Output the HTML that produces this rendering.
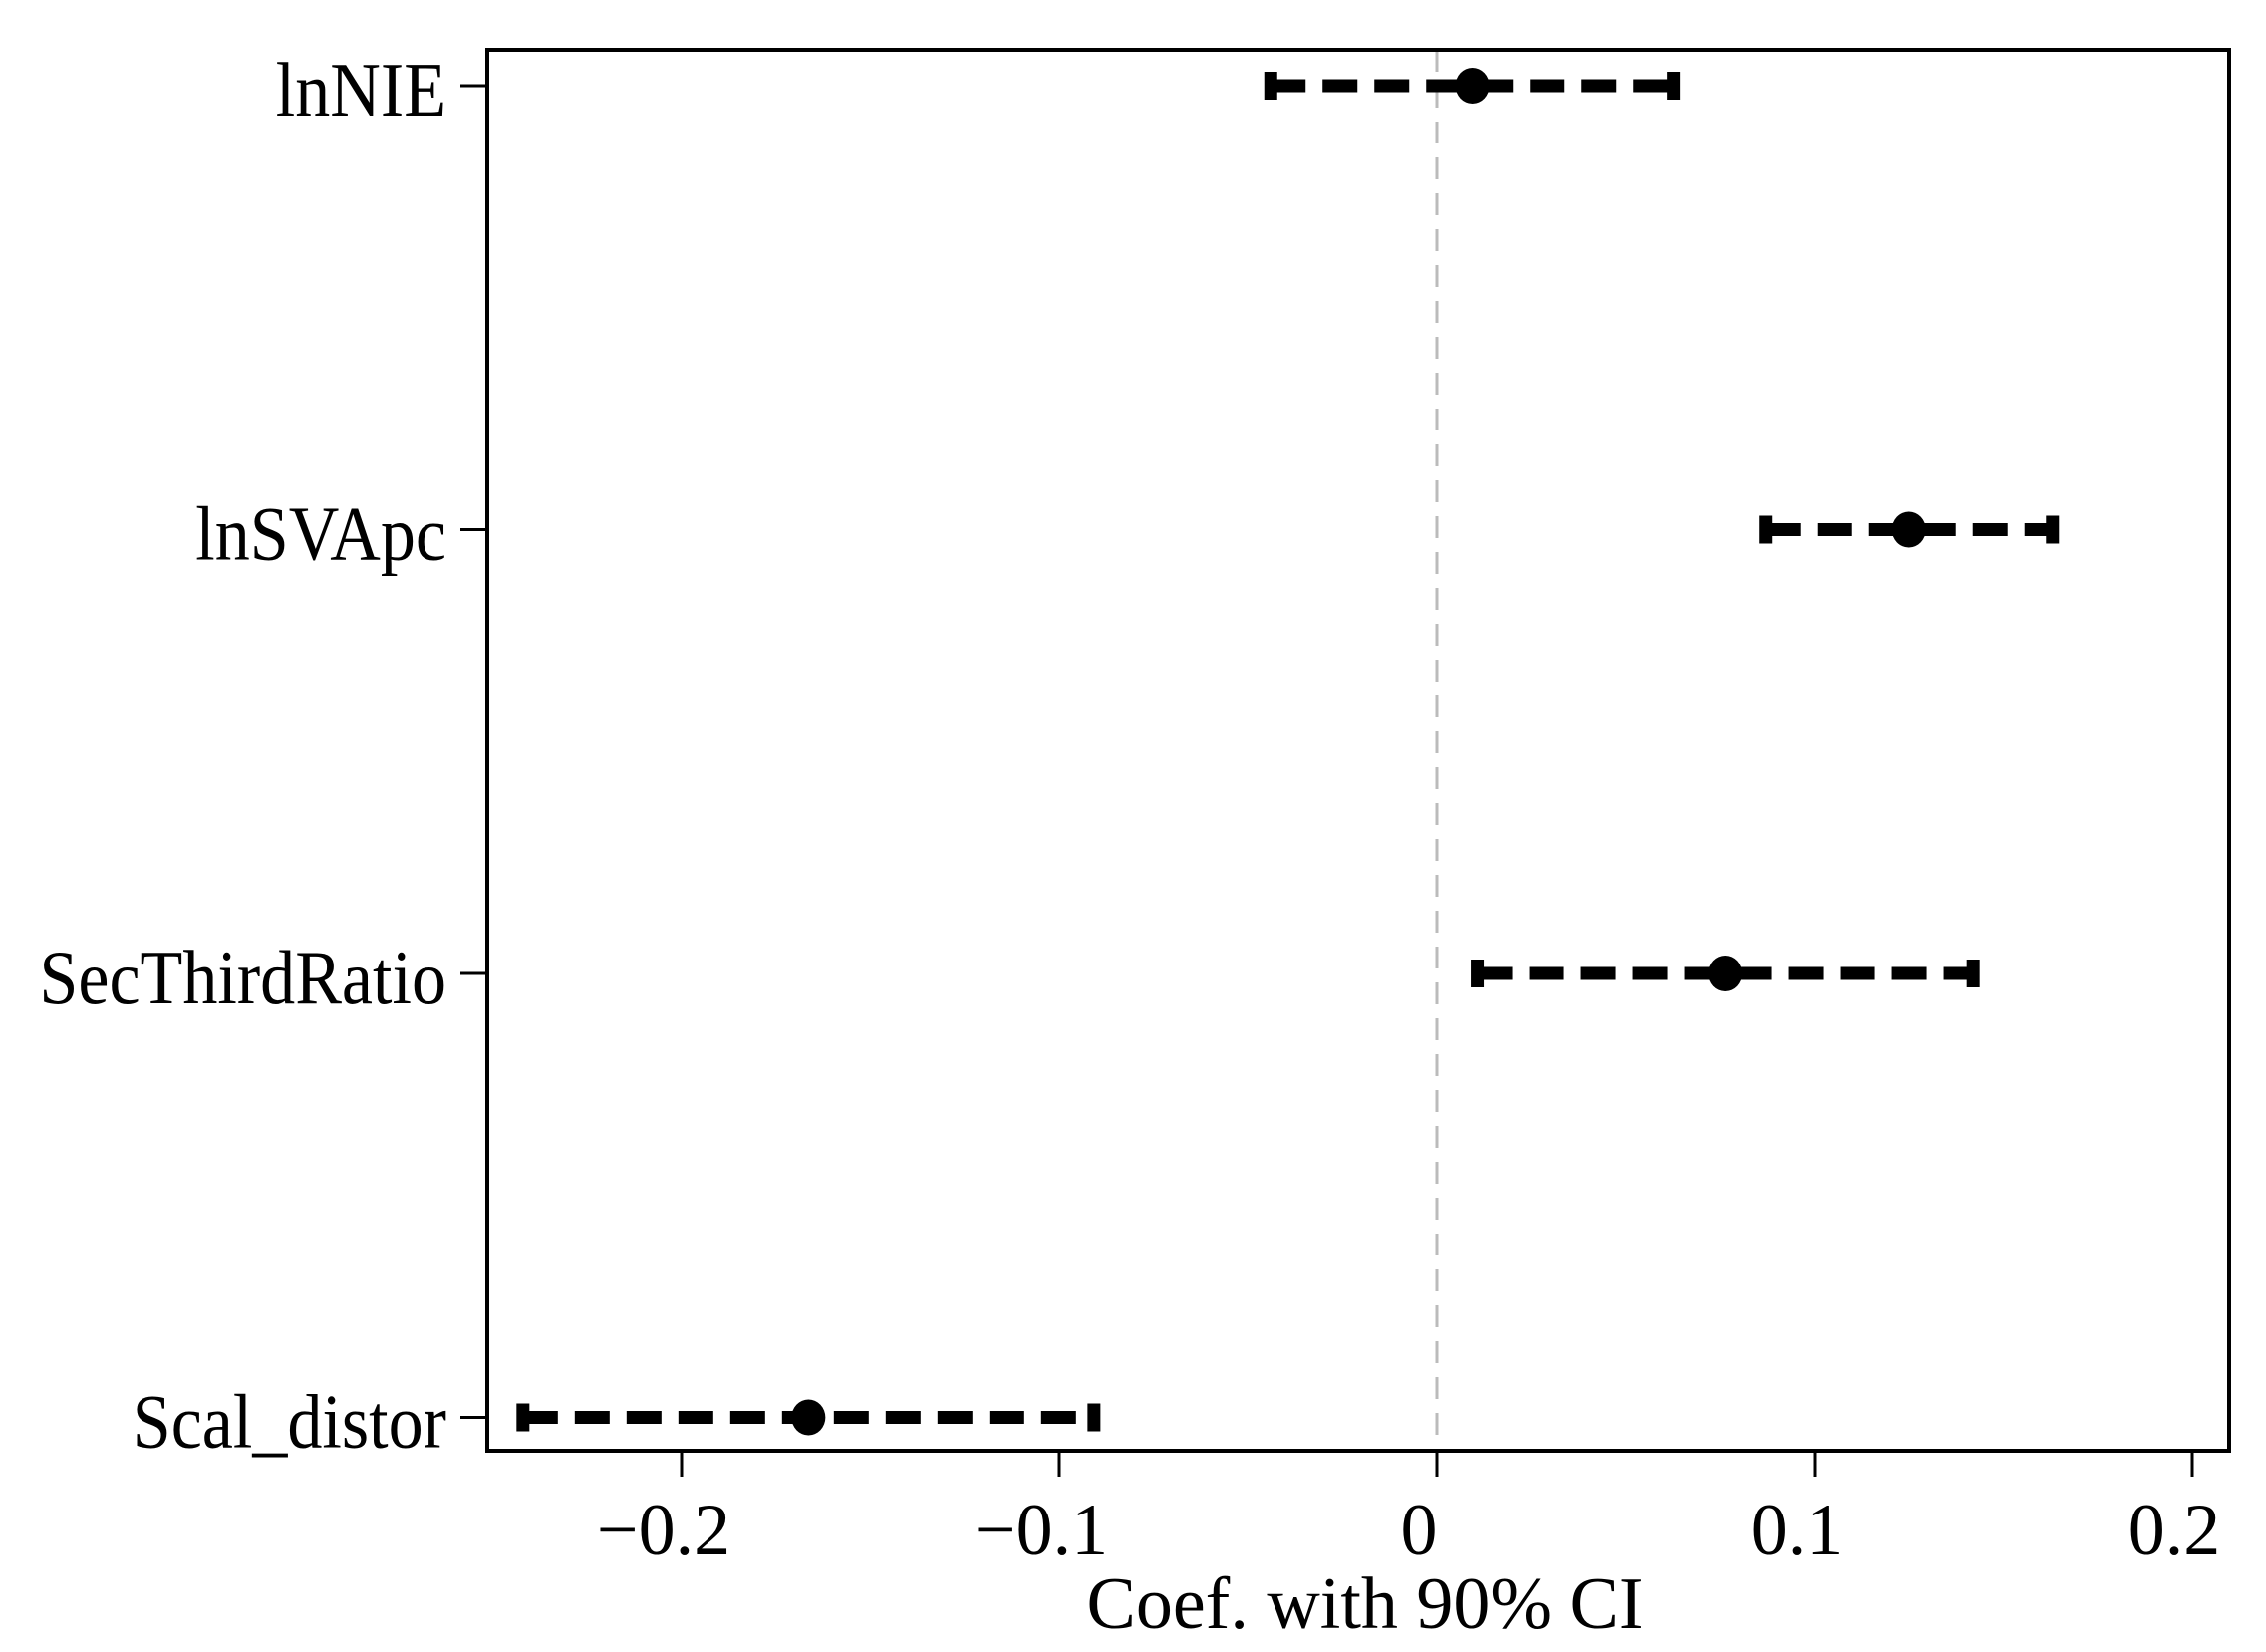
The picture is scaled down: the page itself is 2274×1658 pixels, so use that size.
<!DOCTYPE html>
<html><head><meta charset="utf-8"><style>
html,body{margin:0;padding:0;background:#fff;}
svg{display:block;}
text{font-family:"Liberation Serif",serif;fill:#000;}
</style></head><body>
<svg id="chart" width="2274" height="1658" viewBox="0 0 2274 1658">
<rect x="0" y="0" width="2274" height="1658" fill="#fff"/>
<g id="plot"></g>
</svg>
<script>
const categories = ["lnNIE","lnSVApc","SecThirdRatio","Scal_distor"];
const coefs = [0.0094, 0.125, 0.0763, -0.1664];
const ciLow = [-0.044, 0.087, 0.0107, -0.242];
const ciHigh = [0.0627, 0.163, 0.142, -0.0908];
const xTicks = [-0.2, -0.1, 0, 0.1, 0.2];
const xTickLabels = ["\u22120.2","\u22120.1","0","0.1","0.2"];

const L=489, R=2237, T=50, B=1456;
const x0=1442, perUnit=3790;
function xs(v){return x0+v*perUnit;}
const rowTop=86, rowStep=445.5;
function ys(i){return rowTop+i*rowStep;}

const NS="http://www.w3.org/2000/svg";
const g=document.getElementById('plot');
function mk(tag,attrs,parent){const e=document.createElementNS(NS,tag);for(const k in attrs)e.setAttribute(k,attrs[k]);(parent||g).appendChild(e);return e;}

const zl=mk('line',{x1:xs(0),x2:xs(0),y1:T,y2:B,stroke:'#bbb','stroke-width':3,'stroke-dasharray':'22 14'});



const fr=mk('rect',{x:L,y:T,width:R-L,height:B-T,fill:'none',stroke:'#000','stroke-width':4});



xTicks.forEach((v,i)=>{
  const t=mk('line',{x1:xs(v),x2:xs(v),y1:B,y2:B+26,stroke:'#000','stroke-width':3});
  
  
  const lb=mk('text',{x:xs(v)-18,y:1560,'font-size':74,'text-anchor':'middle'});
  lb.textContent=xTickLabels[i];
  
  
});
const xt=mk('text',{x:1370,y:1634,'font-size':74,'text-anchor':'middle'});
xt.textContent='Coef. with 90% CI';



categories.forEach((c,i)=>{
  const y=ys(i);
  const tk=mk('line',{x1:L-27,x2:L,y1:y,y2:y,stroke:'#000','stroke-width':3});
  
  
  const lb=mk('text',{x:0,y:0,'font-size':77,'text-anchor':'end',transform:'translate(448,'+(y+30)+') scale(0.91,1)'});
  lb.textContent=c;
  
  
  const ci=mk('line',{x1:xs(ciLow[i]),x2:xs(ciHigh[i]),y1:y,y2:y,stroke:'#000','stroke-width':13,'stroke-dasharray':'35 17'});
  
  
  [ciLow[i],ciHigh[i]].forEach((v,j)=>{
    const cap=mk('rect',{x:xs(v)-6.5,y:y-14,width:13,height:28,fill:'#000'});
    
    
  });
  const pt=mk('ellipse',{cx:xs(coefs[i]),cy:y,rx:17,ry:18,fill:'#000'});
  
  
});
</script>
</body></html>
